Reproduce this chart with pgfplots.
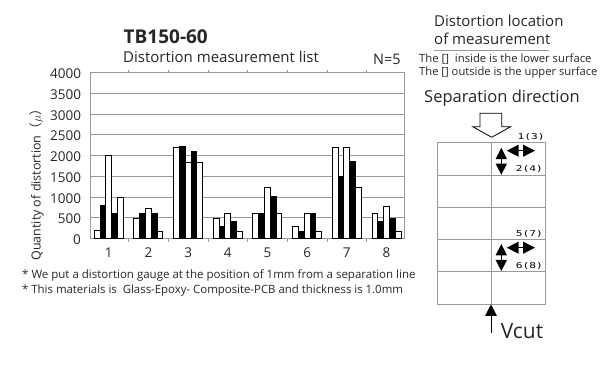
\documentclass[border=0pt]{standalone}
\usepackage{fontspec}
\setmainfont{Open Sans}
\newfontfamily\monof{DejaVu Sans Mono}
\newfontfamily\cjk{Noto Sans CJK JP}
\usepackage{pgfplots}
\pgfplotsset{compat=1.18}
\usepackage{pgfplotstable}
\definecolor{gl}{HTML}{999999}
\newcommand{\T}[4]{\node[anchor=base west,inner sep=0pt,text=black!85] at (#1,#2) {\fontsize{#3}{#3}\selectfont #4};}
\newcommand{\M}[3]{\node[anchor=base west,inner sep=0pt,xscale=1.4] at (#1,#2) {\monof\fontsize{8}{8}\selectfont #3};}
\pgfplotstableread{
c a b d e f
1 200 790 2000 610 1000
2 490 610 730 610 180
3 2200 2230 1840 2090 1840
4 490 305 610 425 180
5 610 610 1240 1010 610
6 300 185 610 610 180
7 2200 1500 2200 1850 1240
8 610 425 780 490 180
}\data
\begin{document}
\begin{tikzpicture}
\path (0pt,0pt) rectangle (606pt,377pt);
\begin{axis}[
  at={(90.5pt,138.3pt)},anchor=south west,
  scale only axis,width=313.5pt,height=166pt,
  xmin=0.539,xmax=8.441,ymin=0,ymax=4000,
  ybar=0pt,bar width=5.8pt,
  xtick={1,...,8},
  minor xtick={1.5,2.5,...,7.5},
  ytick={0,500,...,4000},
  scaled y ticks=false,
  /pgf/number format/assume math mode=true,
  /pgf/number format/1000 sep={},
  tick label style={font=\fontsize{13.5}{13.5}\selectfont,text=black!85},
  xtick style={draw=none},
  minor x tick style={draw=gl,line width=.8pt},
  minor tick length=3pt,
  ytick style={draw=none},
  ymajorgrids,grid style={draw=gl,line width=.9pt},
  axis line style={draw=gl,line width=.9pt},
  xticklabel style={yshift=-1pt},
  yticklabel style={xshift=-6pt,yshift=-1pt},
  ylabel={Quantity of distortion{\cjk（}$\mu${\cjk）}},
  ylabel style={font=\fontsize{12.5}{12.5}\selectfont,text=black!85,at={(rel axis cs:-0.1716,0.342)},anchor=center},
  every axis plot/.append style={draw=black,line width=1pt},
]
\addplot[fill=white] table[x=c,y=a]{\data};
\addplot[fill=black] table[x=c,y=b]{\data};
\addplot[fill=white] table[x=c,y=d]{\data};
\addplot[fill=black] table[x=c,y=e]{\data};
\addplot[fill=white] table[x=c,y=f]{\data};
\end{axis}
\begin{scope}[x=1pt,y=-1pt,yshift=377pt]
\T{123.5}{44}{19}{\textbf{TB150-60}}
\T{123}{63}{15}{Distortion measurement list}
\T{373}{65}{14.5}{N=5}
\T{22}{279}{11.5}{* We put a distortion gauge at the position of 1mm from a separation line}
\T{22}{294}{11.4}{* This materials is\ \ Glass-Epoxy- Composite-PCB and thickness is 1.0mm}
\T{434}{26.7}{15}{Distortion location}
\T{434}{45}{15}{of measurement}
\draw[gl,line width=.8pt] (434,50.7)--(549,50.7);
\T{419}{63}{11.3}{The [] \ inside is the lower surface}
\T{419}{76}{11.2}{The [] outside is the upper surface}
\T{424}{103}{16.5}{Separation direction}
\draw[black,line width=.8pt] (480,126.7)--(480,113.3)--(501.7,113.3)--(501.7,126.7)--(510.7,126.7)--(491.7,137.3)--(472.7,126.7)--cycle;
\draw[gl,line width=.9pt] (437.3,142.3) rectangle (545.3,304.3);
\draw[gl,line width=.9pt] (491.3,142.3)--(491.3,304.3);
\foreach \yy in {175,207.3,239.3,271.3} \draw[gl,line width=.9pt] (437.3,\yy)--(545.3,\yy);
\foreach \h/\v in {150.7/147.7,247.7/244}{
  \draw[black,line width=.8pt] (510,\h)--(532,\h);
  \fill[black] (506.7,\h)--(518.5,\h-6)--(518.5,\h+6)--cycle;
  \fill[black] (535,\h)--(523.2,\h-6)--(523.2,\h+6)--cycle;
  \draw[black,line width=.8pt] (501.3,\v+4)--(501.3,\v+24);
  \fill[black] (501.3,\v)--(495.6,\v+11.5)--(507,\v+11.5)--cycle;
  \fill[black] (501.3,\v+27)--(495.6,\v+16)--(507,\v+16)--cycle;
}
\M{517.3}{140}{1(3)}
\M{515.5}{172}{2(4)}
\M{515.5}{237}{5(7)}
\M{515.5}{269}{6(8)}
\draw[black,line width=.8pt] (491,332.7)--(491,310);
\fill[black] (491,304.3)--(485,316)--(497,316)--cycle;
\T{500.7}{339}{21}{Vcut}
\end{scope}
\end{tikzpicture}
\end{document}
